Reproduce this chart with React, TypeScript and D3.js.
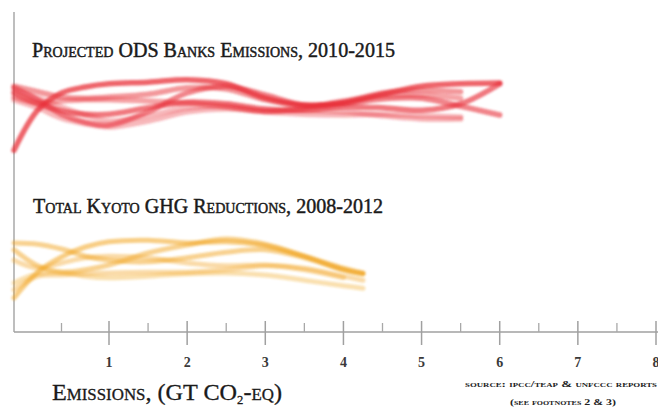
import React from "react";
import * as d3 from "d3";

// Sample positions (GT CO2-eq) along each band
const redX = [0, 0.25, 0.5, 0.75, 1, 1.5, 2, 2.5, 3, 3.5, 4, 4.5, 5, 5.5, 6];
const orangeX = [0, 0.25, 0.5, 0.75, 1, 1.5, 2, 2.5, 3, 3.5, 4, 4.25];

// Projected ODS banks emissions, 2010-2015 (relative band offset, 0-10)
const redSeries: number[][] = [
  [0.6, 5.6, 7.75, 8.5, 8.9, 9.1, 9.4, 8.9, 7.1, 6.25, 6.5, 7.6, 8.6, 8.9, 9.0],
  [8.4, 6.9, 5.1, 4.1, 3.75, 5.4, 7.75, 8.6, 7.5, 6.25, 6.4, 7.0, 7.1, 6.1, 5.0],
  [7.75, 6.4, 5.5, 5.1, 5.1, 5.9, 6.6, 6.4, 5.75, 5.6, 6.0, 5.9, 5.6, 6.4, 8.9],
  [7.25, 6.5, 6.75, 6.9, 6.9, 6.75, 6.5, 6.0, 5.4, 5.9, 6.75, 7.4, 7.5, 7.1],
  [6.9, 5.9, 4.6, 3.9, 3.5, 4.25, 5.4, 5.75, 5.5, 5.6, 5.4, 4.9, 4.5, 4.5],
  [8.0, 7.1, 6.0, 5.0, 4.25, 4.9, 5.9, 6.1, 5.4, 5.1, 5.0, 5.1, 4.9, 4.75],
  [8.6, 7.9, 7.25, 7.1, 7.25, 7.6, 8.4, 8.25, 6.9, 6.1, 6.6, 7.75, 8.1, 7.9],
];
const redOpacity = [0.75, 0.6, 0.65, 0.45, 0.35, 0.35, 0.5];

// Total Kyoto GHG reductions, 2008-2012 (relative band offset, 0-10)
const orangeSeries: number[][] = [
  [7.75, 7.6, 7.0, 6.1, 5.6, 5.4, 5.9, 6.6, 6.9, 5.9, 4.4, 3.9],
  [0.9, 4.1, 6.0, 7.25, 7.9, 8.1, 7.75, 7.9, 7.4, 6.1, 4.6, 4.0],
  [6.9, 4.9, 4.1, 4.4, 5.0, 6.5, 7.5, 8.25, 7.6, 6.1, 4.4, 3.9],
  [1.9, 3.6, 3.75, 3.9, 4.0, 4.1, 4.1, 4.4, 4.9, 4.6, 3.6, 3.1],
  [2.75, 3.9, 4.1, 3.6, 3.4, 3.6, 3.9, 4.0, 3.75, 3.1, 2.4, 2.1],
  [5.6, 4.6, 5.25, 5.9, 6.1, 5.9, 5.25, 4.9, 5.0, 4.4, 3.4],
];
const orangeOpacity = [0.5, 0.55, 0.5, 0.4, 0.35, 0.4];

const majorTicks = [1, 2, 3, 4, 5, 6, 7, 8];
const minorTicks = [0.5, 1.5, 2.5, 3.5, 4.5, 5.5, 6.5, 7.5];
const tickLabels = ["1", "2", "3", "4", "5", "6", "7", "8"];

const W = 658;
const H = 410;
const SERIF = "'Liberation Serif', 'DejaVu Serif', serif";

export default function App() {
  const x = d3.scaleLinear().domain([0, 1, 8]).range([14, 109, 656]);
  const yRed = d3.scaleLinear().domain([0, 10]).range([155, 75]);
  const yOrange = d3.scaleLinear().domain([0, 10]).range([305, 225]);
  const axisY = 332;

  const makeLine = (y: d3.ScaleLinear<number, number>, xs: number[]) =>
    d3
      .line<number>()
      .x((_, i) => x(xs[i]))
      .y((v) => y(v))
      .curve(d3.curveCatmullRom.alpha(0.5));

  const redLine = makeLine(yRed, redX);
  const orangeLine = makeLine(yOrange, orangeX);

  const heading = {
    fontFamily: SERIF,
    fill: "#1a1a1a",
    stroke: "#1a1a1a",
    strokeWidth: 0.45,
    style: { fontVariant: "small-caps" as const },
  };

  return (
    <svg
      width={W}
      height={H}
      style={{ position: "absolute", left: 0, top: 0, background: "#fff" }}
    >
      <defs>
        <filter id="soft" x="-5%" y="-20%" width="110%" height="140%">
          <feGaussianBlur stdDeviation="0.9" />
        </filter>
      </defs>

      {/* vertical guide */}
      <line x1={14} x2={14} y1={12} y2={axisY} stroke="#a8a8a8" strokeWidth={1.5} />

      {/* band titles */}
      <text
        x={32}
        y={57}
        fontSize={20}
        textLength={363}
        lengthAdjust="spacingAndGlyphs"
        {...heading}
      >
        Projected ODS Banks Emissions, 2010-2015
      </text>
      <text
        x={33}
        y={213}
        fontSize={20}
        textLength={350}
        lengthAdjust="spacingAndGlyphs"
        {...heading}
      >
        Total Kyoto GHG Reductions, 2008-2012
      </text>

      {/* emission bands */}
      <g filter="url(#soft)">
        {redSeries.map((s, i) => (
          <path
            key={"r" + i}
            d={redLine(s) || ""}
            fill="none"
            stroke="#e8303a"
            strokeOpacity={redOpacity[i]}
            strokeWidth={5.5}
            strokeLinecap="round"
          />
        ))}
        {orangeSeries.map((s, i) => (
          <path
            key={"o" + i}
            d={orangeLine(s) || ""}
            fill="none"
            stroke="#f2a622"
            strokeOpacity={orangeOpacity[i]}
            strokeWidth={5}
            strokeLinecap="round"
          />
        ))}
      </g>

      {/* x axis */}
      <line x1={14} x2={W} y1={axisY} y2={axisY} stroke="#a0a0a0" strokeWidth={1.5} />
      {minorTicks.map((t) => (
        <line
          key={"m" + t}
          x1={x(t)}
          x2={x(t)}
          y1={axisY - 9}
          y2={axisY}
          stroke="#a8a8a8"
          strokeWidth={1.3}
        />
      ))}
      {majorTicks.map((t, i) => (
        <g key={"t" + t}>
          <line
            x1={x(t)}
            x2={x(t)}
            y1={axisY - 11}
            y2={axisY + 13}
            stroke="#a0a0a0"
            strokeWidth={1.5}
          />
          <text
            x={x(t)}
            y={367}
            textAnchor="middle"
            fontFamily={SERIF}
            fontSize={14}
            fontWeight="bold"
            fill="#3a3a3a"
          >
            {tickLabels[i]}
          </text>
        </g>
      ))}

      {/* axis title */}
      <text
        x={52}
        y={400}
        fontSize={23}
        textLength={230}
        lengthAdjust="spacingAndGlyphs"
        {...heading}
        strokeWidth={0.3}
      >
        Emissions, (GT CO
        <tspan fontSize={12} dy={4}>2</tspan>
        <tspan dy={-4}>-eq)</tspan>
      </text>

      {/* source note */}
      <text
        x={561}
        y={387}
        textAnchor="middle"
        fontFamily={SERIF}
        fontSize={9}
        fontWeight="bold"
        fill="#222"
        style={{ fontVariant: "small-caps" }}
        textLength={192}
        lengthAdjust="spacingAndGlyphs"
      >
        source: ipcc/teap &amp; unfccc reports
      </text>
      <text
        x={563}
        y={405}
        textAnchor="middle"
        fontFamily={SERIF}
        fontSize={9}
        fontWeight="bold"
        fill="#222"
        style={{ fontVariant: "small-caps" }}
        textLength={106}
        lengthAdjust="spacingAndGlyphs"
      >
        (see footnotes 2 &amp; 3)
      </text>
    </svg>
  );
}
